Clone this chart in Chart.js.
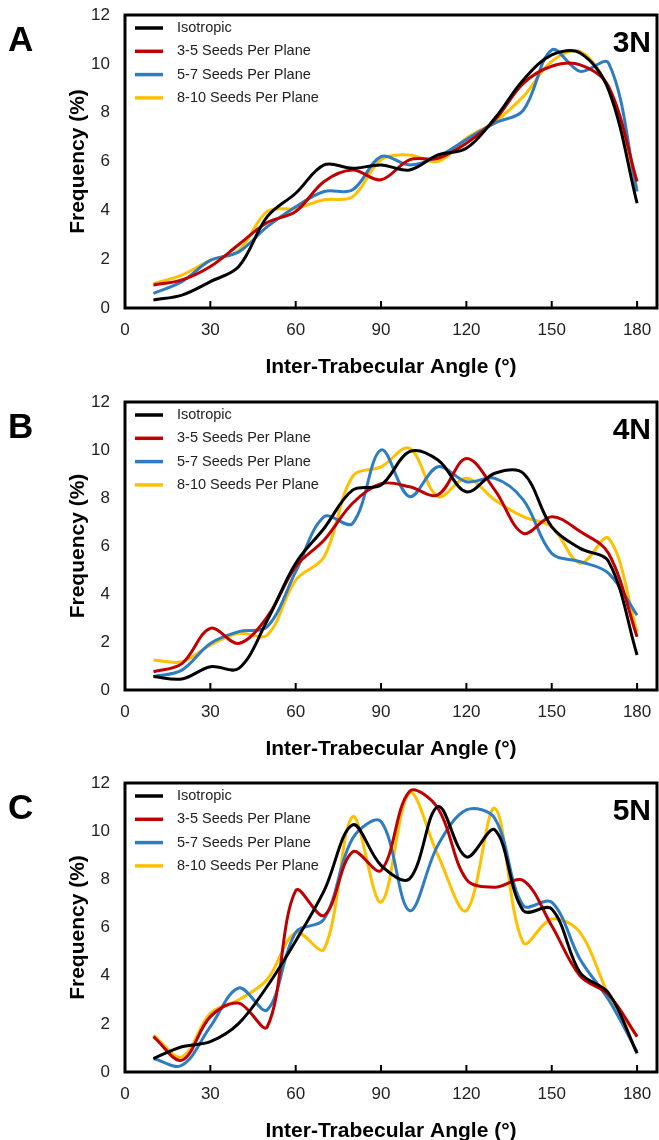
<!DOCTYPE html>
<html>
<head>
<meta charset="utf-8">
<script src="https://cdn.jsdelivr.net/npm/chart.js@4.4.0/dist/chart.umd.min.js"></script>
<style>
	html, body { margin: 0; padding: 0; background: #fff; overflow: hidden; }
	.panel { position: absolute; left: 0; width: 659px; }
</style>
</head>
<body>
<div class="panel" style="top:0;height:380px"><canvas id="chartA"></canvas></div>
<div class="panel" style="top:380px;height:382px"><canvas id="chartB"></canvas></div>
<div class="panel" style="top:762px;height:382px"><canvas id="chartC"></canvas></div>
<script>
// bin centres (degrees)
var angles = [10, 20, 30, 40, 50, 60, 70, 80, 90, 100, 110, 120, 130, 140, 150, 160, 170, 180];
var xTicks = [0, 30, 60, 90, 120, 150, 180];
var seriesNames = ['Isotropic', '3-5 Seeds Per Plane', '5-7 Seeds Per Plane', '8-10 Seeds Per Plane'];
var seriesColors = ['#000000', '#c00000', '#2e7cc3', '#ffc000'];

// 3N
var iso3N  = [0.33, 0.53, 1.08, 1.70, 3.74, 4.70, 5.86, 5.72, 5.86, 5.65, 6.27, 6.54, 7.77, 9.34, 10.37, 10.44, 8.93, 4.29];
var s35_3N = [0.94, 1.15, 1.70, 2.60, 3.50, 3.95, 5.18, 5.65, 5.25, 6.07, 6.13, 6.75, 7.70, 9.20, 9.90, 9.96, 9.07, 5.18];
var s57_3N = [0.60, 1.08, 1.95, 2.30, 3.33, 4.15, 4.77, 4.84, 6.20, 5.86, 6.20, 6.90, 7.57, 8.10, 10.57, 9.69, 10.03, 4.77];
var s810_3N = [1.00, 1.35, 1.95, 2.35, 3.95, 4.08, 4.43, 4.56, 6.07, 6.27, 6.00, 6.95, 7.63, 8.66, 10.10, 10.50, 8.93, 4.90];

// 4N
var iso4N  = [0.56, 0.46, 0.97, 0.90, 2.90, 5.28, 6.74, 8.33, 8.54, 9.93, 9.58, 8.26, 9.03, 9.03, 6.80, 5.90, 5.35, 1.46];
var s35_4N = [0.76, 1.10, 2.57, 1.94, 3.05, 5.14, 6.25, 7.78, 8.60, 8.47, 8.13, 9.65, 8.33, 6.53, 7.22, 6.60, 5.69, 2.22];
var s57_4N = [0.56, 0.83, 1.94, 2.43, 2.64, 4.93, 7.22, 6.94, 10.00, 8.06, 9.30, 8.68, 8.82, 7.92, 5.69, 5.35, 4.86, 3.12];
var s810_4N = [1.25, 1.18, 1.87, 2.36, 2.29, 4.58, 5.55, 8.90, 9.30, 10.07, 8.06, 8.82, 7.92, 7.22, 6.80, 5.28, 6.32, 2.43];

// 5N
var iso5N  = [0.56, 1.05, 1.26, 2.02, 3.56, 5.44, 7.53, 10.26, 8.58, 8.02, 11.02, 8.93, 10.05, 6.70, 6.77, 4.12, 3.28, 0.77];
var s35_5N = [1.47, 0.49, 2.30, 2.86, 1.88, 7.53, 6.50, 9.14, 8.37, 11.65, 10.95, 8.00, 7.67, 7.95, 6.07, 3.98, 3.21, 1.47];
var s57_5N = [0.56, 0.28, 1.88, 3.49, 2.58, 5.79, 6.35, 9.70, 10.40, 6.70, 9.42, 10.88, 10.53, 6.91, 7.05, 4.67, 3.00, 0.84];
var s810_5N = [1.53, 0.63, 2.44, 3.00, 3.84, 5.79, 5.10, 10.60, 7.05, 11.58, 9.00, 6.70, 10.95, 5.37, 6.35, 5.79, 3.21, 1.47];

var fontFamily = '"Liberation Sans", Arial, sans-serif';

function toPoints(values){
	return angles.map(function(a, i){ return {x: a, y: values[i]}; });
}

// frame, inner x ticks, legend and panel labels
var panelDecor = {
	id: 'panelDecor',
	afterDatasetsDraw: function(chart, args, opts){
		var ctx = chart.ctx;
		var area = chart.chartArea;
		var xs = chart.scales.x;
		ctx.save();
		ctx.strokeStyle = '#000';
		ctx.lineWidth = 2;
		xTicks.forEach(function(v){
			if (v === 0) return;
			var px = xs.getPixelForValue(v);
			ctx.beginPath();
			ctx.moveTo(px, area.bottom);
			ctx.lineTo(px, area.bottom - 7);
			ctx.stroke();
		});
		ctx.lineWidth = 3;
		ctx.strokeRect(area.left, area.top, area.right - area.left, area.bottom - area.top);

		ctx.font = '14.5px ' + fontFamily;
		ctx.textBaseline = 'middle';
		ctx.textAlign = 'left';
		chart.data.datasets.forEach(function(ds, i){
			var y = area.top + 13 + i * 23.3;
			ctx.strokeStyle = ds.borderColor;
			ctx.lineWidth = 3.5;
			ctx.beginPath();
			ctx.moveTo(area.left + 10, y);
			ctx.lineTo(area.left + 38, y);
			ctx.stroke();
			ctx.fillStyle = '#222';
			ctx.fillText(ds.label, area.left + 52, y);
		});

		ctx.fillStyle = '#000';
		ctx.textBaseline = 'alphabetic';
		ctx.font = 'bold 35px ' + fontFamily;
		ctx.fillText(opts.letter, 8, area.top + 36);
		ctx.font = 'bold 30px ' + fontFamily;
		ctx.textAlign = 'right';
		ctx.fillText(opts.tag, area.right - 6, area.top + 37);
		ctx.restore();
	}
};

function makePanel(canvasId, letter, tag, topPad, seriesList){
	var ctx = document.getElementById(canvasId);
	return new Chart(ctx, {
		type: 'line',
		data: {
			datasets: seriesList.map(function(values, i){
				return {
					label: seriesNames[i],
					data: toPoints(values),
					borderColor: seriesColors[i],
					backgroundColor: seriesColors[i],
					borderWidth: 3,
					pointRadius: 0,
					tension: 0.35,
					fill: false
				};
			})
		},
		options: {
			responsive: true,
			maintainAspectRatio: false,
			animation: false,
			layout: { padding: { top: topPad, right: 2, left: 0, bottom: 0 } },
			plugins: {
				legend: { display: false },
				tooltip: { enabled: false },
				panelDecor: { letter: letter, tag: tag }
			},
			scales: {
				x: {
					type: 'linear',
					min: 0,
					max: 187,
					// tick marks hidden, their length only spaces the labels
					grid: { display: false, drawTicks: true, tickLength: 12 },
					border: { display: false },
					afterFit: function(scale){ scale.height = 72; },
					ticks: {
						stepSize: 30,
						includeBounds: false,
						padding: 0,
						color: '#222',
						font: { family: fontFamily, size: 17 }
					},
					title: {
						display: true,
						text: 'Inter-Trabecular Angle (°)',
						color: '#000',
						padding: { top: 0, bottom: 0.5 },
						font: { family: fontFamily, size: 21, weight: 'bold' }
					}
				},
				y: {
					min: 0,
					max: 12,
					grid: { display: false, drawTicks: true, tickLength: 15 },
					border: { display: false },
					afterFit: function(scale){ scale.width = 125; },
					ticks: {
						stepSize: 2,
						padding: 0,
						color: '#222',
						font: { family: fontFamily, size: 17 }
					},
					title: {
						display: true,
						text: 'Frequency (%)',
						color: '#000',
						padding: { top: 66, bottom: 0 },
						font: { family: fontFamily, size: 21, weight: 'bold' }
					}
				}
			}
		},
		plugins: [panelDecor]
	});
}

makePanel('chartA', 'A', '3N', 15, [iso3N, s35_3N, s57_3N, s810_3N]);
makePanel('chartB', 'B', '4N', 22, [iso4N, s35_4N, s57_4N, s810_4N]);
makePanel('chartC', 'C', '5N', 21, [iso5N, s35_5N, s57_5N, s810_5N]);
</script>
</body>
</html>
